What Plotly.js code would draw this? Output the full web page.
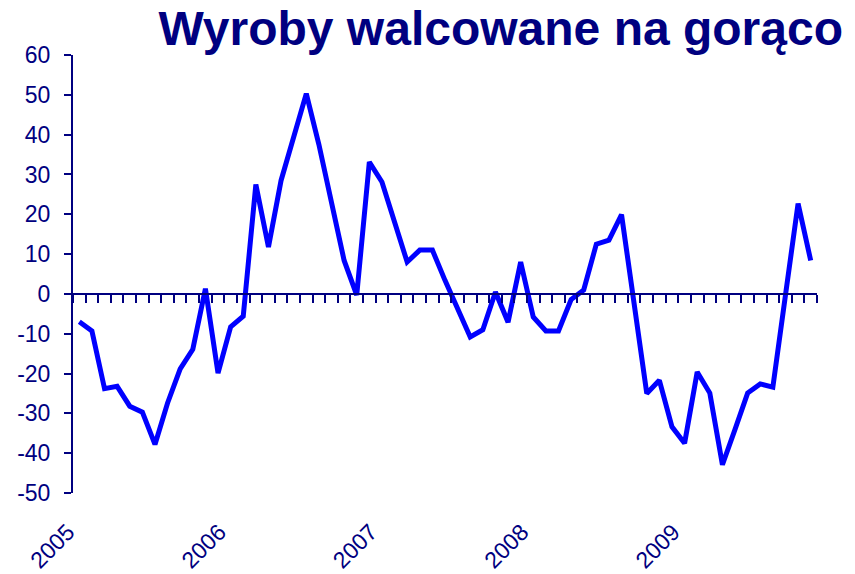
<!DOCTYPE html>
<html>
<head>
<meta charset="utf-8">
<script src="https://cdn.plot.ly/plotly-3.0.1.min.js"></script>
<style>html,body{margin:0;padding:0;background:#fff;}#chart{width:855px;height:574px;}</style>
</head>
<body>
<div id="chart"></div>
<script>
const months = [
  '2005-01','2005-02','2005-03','2005-04','2005-05','2005-06','2005-07','2005-08','2005-09','2005-10','2005-11','2005-12',
  '2006-01','2006-02','2006-03','2006-04','2006-05','2006-06','2006-07','2006-08','2006-09','2006-10','2006-11','2006-12',
  '2007-01','2007-02','2007-03','2007-04','2007-05','2007-06','2007-07','2007-08','2007-09','2007-10','2007-11','2007-12',
  '2008-01','2008-02','2008-03','2008-04','2008-05','2008-06','2008-07','2008-08','2008-09','2008-10','2008-11','2008-12',
  '2009-01','2009-02','2009-03','2009-04','2009-05','2009-06','2009-07','2009-08','2009-09','2009-10','2009-11'
];
const values = [
  -7, -9.3, -23.8, -23.2, -28.2, -29.7, -37.8, -27.4, -18.8, -13.9, 1.3, -19.9,
  -8.3, -5.6, 27.5, 11.8, 28.5, 39.4, 50.3, 37.5, 22.3, 8.4, -0.3, 33.1,
  28.1, 18.5, 8.0, 11.0, 11.0, 3.4, -3.8, -10.8, -9.0, 0.5, -7.1, 8.0,
  -5.8, -9.3, -9.3, -1.4, 1.0, 12.5, 13.5, 19.9, -2.5, -25.0, -21.7, -33.4,
  -37.5, -19.6, -24.9, -42.9, -34.0, -24.9, -22.6, -23.4, -0.3, 22.7, 8.4
];
const yearLabels = ['2005','2006','2007','2008','2009'];
const yTicks = [-50,-40,-30,-20,-10,0,10,20,30,40,50,60];

const navy = '#000080';
const fontFam = '"Liberation Sans", Arial, Helvetica, sans-serif';
const yMin = -50, yMax = 60;
const xIdx = months.map((m, i) => i);
const yearPos = yearLabels.map(y => months.indexOf(y + '-01') - 0.5);

const traces = [{
  x: xIdx,
  y: values,
  type: 'scatter',
  mode: 'lines',
  line: {color: '#0000FF', width: 5},
  hoverinfo: 'skip'
}, {
  x: xIdx,
  y: values,
  xaxis: 'x2',
  type: 'scatter',
  mode: 'lines',
  line: {color: 'rgba(0,0,0,0)', width: 0},
  hoverinfo: 'skip',
  showlegend: false
}];

const layout = {
  width: 855,
  height: 574,
  margin: {l: 73, r: 38, t: 55, b: 81, pad: 0},
  paper_bgcolor: '#ffffff',
  plot_bgcolor: '#ffffff',
  showlegend: false,
  title: {
    text: '<b>Wyroby walcowane na gorąco</b>',
    font: {family: fontFam, size: 48, color: navy, shadow: 'none'},
    xref: 'container', x: 0.986, xanchor: 'right',
    yref: 'container', y: 0.951, yanchor: 'middle'
  },
  xaxis: {
    range: [-0.5, months.length - 0.5],
    anchor: 'free',
    position: (0 - yMin) / (yMax - yMin),
    showline: true, linecolor: navy, linewidth: 2,
    ticks: 'outside', tickmode: 'array',
    tickvals: months.map((m, i) => i - 0.5).concat([months.length - 0.5]),
    ticklen: 8, tickwidth: 2, tickcolor: navy,
    showticklabels: false,
    showgrid: false, zeroline: false
  },
  xaxis2: {
    range: [-0.5, months.length - 0.5],
    overlaying: 'x',
    anchor: 'y',
    side: 'bottom',
    showline: false,
    ticks: '',
    tickmode: 'array',
    tickvals: yearPos,
    ticktext: yearLabels,
    tickangle: -45,
    tickfont: {family: fontFam, size: 23, color: navy, shadow: 'none'},
    ticklabelstandoff: 20,
    ticklabelshift: -5,
    showgrid: false, zeroline: false
  },
  yaxis: {
    range: [yMin, yMax],
    tickmode: 'array',
    tickvals: yTicks,
    ticktext: yTicks.map(String),
    showline: true, linecolor: navy, linewidth: 2,
    ticks: 'outside', ticklen: 7, tickwidth: 2, tickcolor: navy,
    tickfont: {family: fontFam, size: 23, color: navy, shadow: 'none'},
    ticklabelstandoff: 9,
    showgrid: false, zeroline: false
  }
};

Plotly.newPlot('chart', traces, layout, {staticPlot: true, displayModeBar: false});
</script>
</body>
</html>
